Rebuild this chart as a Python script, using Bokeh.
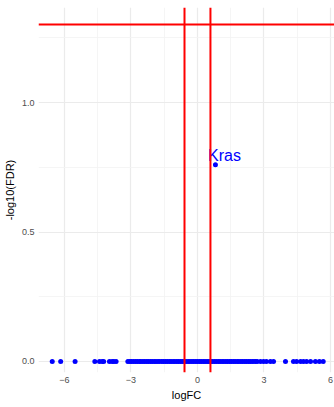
from bokeh.plotting import figure
from bokeh.models import Span, FixedTicker, ColumnDataSource, Range1d
from bokeh.embed import file_html
from bokeh.resources import INLINE
from bokeh.core.properties import value

# Genes with logFC and -log10(FDR)
logfc_neg_tail = [-6.55, -6.17, -5.52, -4.63, -4.42, -4.30, -4.23, -3.97, -3.85, -3.77, -3.67]
logfc_core = [-3.14, -3.05, -2.97, -2.88, -2.79, -2.71, -2.62, -2.55, -2.46, -2.38, -2.29,
              -2.21, -2.12, -2.04, -1.95, -1.87, -1.78, -1.70, -1.61, -1.53, -1.44, -1.36,
              -1.27, -1.19, -1.10, -1.02, -0.93, -0.85, -0.76, -0.68, -0.59, -0.51, -0.42,
              -0.34, -0.25, -0.17, -0.08, 0.00, 0.09, 0.17, 0.26, 0.34, 0.43, 0.51, 0.60,
              0.68, 0.77, 0.85, 0.94, 1.02, 1.11, 1.19, 1.28, 1.36, 1.45, 1.53, 1.62, 1.70,
              1.79, 1.87, 1.96, 2.04, 2.13, 2.21, 2.30, 2.38, 2.47, 2.55, 2.62, 2.69]
logfc_pos_tail = [2.84, 2.98, 3.11, 3.29, 3.43, 3.97, 4.33, 4.47, 4.65, 4.78, 4.92,
                  5.10, 5.32, 5.50, 5.67]
background_neglog_fdr = 0.0

label_gene = ["Kras"]
label_logfc = [0.81]
label_neglog_fdr = [0.76]

fc_cutoffs = [-0.585, 0.585]
fdr_cutoff_line = 1.301

x_ticks = [-6, -3, 0, 3, 6]
x_minor = [-4.5, -1.5, 1.5, 4.5]
y_ticks = [0.0, 0.5, 1.0]
y_minor = [0.25, 0.75, 1.25]

all_fc = logfc_neg_tail + logfc_core + logfc_pos_tail
src = ColumnDataSource(dict(x=all_fc, y=[background_neglog_fdr] * len(all_fc)))
lab = ColumnDataSource(dict(x=label_logfc, y=label_neglog_fdr, t=label_gene))

p = figure(width=334, height=407, output_backend="svg", toolbar_location=None,
           x_range=Range1d(-7.17, 6.18), y_range=Range1d(-0.0425, 1.367),
           min_border_left=0, min_border_right=0, min_border_top=7, min_border_bottom=35)
p.outline_line_color = None

p.scatter("x", "y", source=src, size=5, color="blue", line_color=None)
p.scatter("x", "y", source=lab, size=5, color="blue", line_color=None)
p.text("x", "y", text="t", source=lab, text_color="blue", text_font=value("Liberation Sans"),
       text_font_size="16px", text_align="center", text_baseline="alphabetic",
       x_offset=9, y_offset=-9)

for v in fc_cutoffs:
    p.add_layout(Span(location=v, dimension="height", line_color="red", line_width=2))
p.add_layout(Span(location=fdr_cutoff_line, dimension="width", line_color="red", line_width=2))

p.xaxis.ticker = FixedTicker(ticks=x_ticks, minor_ticks=x_minor)
p.yaxis.ticker = FixedTicker(ticks=y_ticks, minor_ticks=y_minor)
p.xaxis.major_label_overrides = {-6: "\u22126", -3: "\u22123", 0: "0", 3: "3", 6: "6"}
p.yaxis.major_label_overrides = {0: "0.0", 0.5: "0.5", 1: "1.0"}

for ax in (p.xaxis, p.yaxis):
    ax.axis_line_color = None
    ax.major_tick_line_color = None
    ax.minor_tick_line_color = None
    ax.major_tick_out = 0
    ax.minor_tick_out = 0
    ax.major_label_text_color = "#4d4d4d"
    ax.major_label_text_font = "Liberation Sans"
    ax.major_label_text_font_size = "9px"
    ax.axis_label_text_font = "Liberation Sans"
    ax.axis_label_text_font_size = "11px"
    ax.axis_label_text_font_style = "normal"
    ax.axis_label_text_color = "black"
    ax.major_label_standoff = 4
    ax.axis_label_standoff = 3

p.xaxis.axis_label = "logFC"
p.yaxis.axis_label = "-log10(FDR)"

p.xgrid.grid_line_color = "#ebebeb"
p.ygrid.grid_line_color = "#ebebeb"
p.xgrid.grid_line_width = 1.2
p.ygrid.grid_line_width = 1.2
p.xgrid.minor_grid_line_color = "#f3f3f3"
p.ygrid.minor_grid_line_color = "#f3f3f3"
p.xgrid.minor_grid_line_width = 0.8
p.ygrid.minor_grid_line_width = 0.8

open("out.html", "w").write(file_html(p, INLINE))
